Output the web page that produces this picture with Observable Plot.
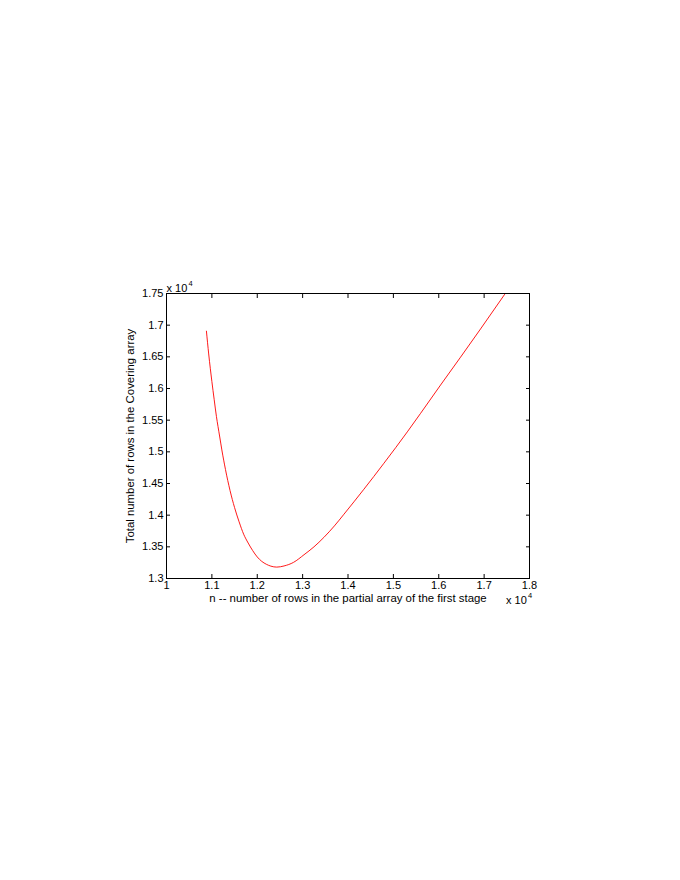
<!DOCTYPE html>
<html>
<head>
<meta charset="utf-8">
<script src="https://cdn.jsdelivr.net/npm/d3@7"></script>
<script src="https://cdn.jsdelivr.net/npm/@observablehq/plot@0.6"></script>
<style>
  html, body { margin: 0; padding: 0; background: #fff; }
  #chart svg { display: block; }
</style>
</head>
<body>
<div id="chart"></div>
<script>
// n (rows in the partial array of the first stage)
const nValues = [10880, 10930, 11000, 11050, 11100, 11170, 11220, 11300, 11400, 11500, 11600, 11700, 11800, 11900, 12000, 12100, 12200, 12300, 12430, 12590, 12800, 13030, 13250, 13470, 13700, 13911, 14130, 14351, 14570, 14792, 15050, 15307, 15600, 16040, 16481, 16921, 17456, 17500];
// total number of rows in the covering array
const totalRows = [16905, 16545, 16110, 15830, 15560, 15250, 15030, 14720, 14390, 14120, 13895, 13700, 13560, 13440, 13340, 13270, 13225, 13195, 13180, 13198, 13255, 13375, 13500, 13650, 13830, 14015, 14210, 14410, 14612, 14820, 15065, 15315, 15608, 16055, 16495, 16940, 17490, 17535];

const xTicks = [10000, 11000, 12000, 13000, 14000, 15000, 16000, 17000, 18000];
const yTicks = [13000, 13500, 14000, 14500, 15000, 15500, 16000, 16500, 17000, 17500];
const xLabel = "n -- number of rows in the partial array of the first stage";
const yLabel = "Total number of rows in the Covering array";
const expBase = ["x 10"];
const expPow = ["4"];

const data = nValues.map((n, i) => ({n, total: totalRows[i]}));
const fmt = d => String(+(d / 1e4).toFixed(2));

const chart = Plot.plot({
  width: 680,
  height: 880,
  marginLeft: 166,
  marginRight: 151,
  marginTop: 293,
  marginBottom: 302,
  style: {fontFamily: "'Liberation Sans', Arial, Helvetica, sans-serif", fontSize: "11px", background: "#fff", color: "#000"},
  x: {domain: [10000, 18000]},
  y: {domain: [13000, 17500]},
  marks: [
    Plot.line(data, {x: "n", y: "total", stroke: "#ff0000", strokeWidth: 0.9, curve: "monotone-x", clip: true}),
    Plot.frame({stroke: "#000", strokeWidth: 1}),
    // inward ticks
    Plot.axisX(xTicks, {anchor: "bottom", tickSize: 4, dy: -4, fill: "none", stroke: "#000"}),
    Plot.axisX(xTicks, {anchor: "top", tickSize: 4, dy: 4, fill: "none", stroke: "#000"}),
    Plot.axisY(yTicks, {anchor: "left", tickSize: 4, dx: 4, fill: "none", stroke: "#000"}),
    Plot.axisY(yTicks, {anchor: "right", tickSize: 4, dx: -4, fill: "none", stroke: "#000"}),
    // tick labels
    Plot.axisX(xTicks, {anchor: "bottom", tickSize: 0, tickPadding: 3, tickFormat: fmt, label: null, fill: "#000"}),
    Plot.axisY(yTicks, {anchor: "left", tickSize: 0, tickPadding: 3, tickFormat: fmt, label: null, fill: "#000"}),
    // axis titles
    Plot.text([xLabel], {frameAnchor: "bottom", text: d => d, dy: 23, fontSize: 11.4, fill: "#000"}),
    Plot.text([yLabel], {frameAnchor: "left", text: d => d, textAnchor: "middle", dx: -36, rotate: -90, fontSize: 11.4, fill: "#000"}),
    // exponent labels
    Plot.text(expBase, {frameAnchor: "top-left", text: d => d, textAnchor: "start", dy: -9, dx: 0, fill: "#000"}),
    Plot.text(expPow, {frameAnchor: "top-left", text: d => d, textAnchor: "start", dy: -12.5, dx: 22, fontSize: 7.5, fill: "#000"}),
    Plot.text(expBase, {frameAnchor: "bottom-right", text: d => d, textAnchor: "start", dy: 25, dx: -23.5, fill: "#000"}),
    Plot.text(expPow, {frameAnchor: "bottom-right", text: d => d, textAnchor: "start", dy: 19, dx: -1.5, fontSize: 7.5, fill: "#000"})
  ]
});
document.getElementById("chart").append(chart);
</script>
</body>
</html>
